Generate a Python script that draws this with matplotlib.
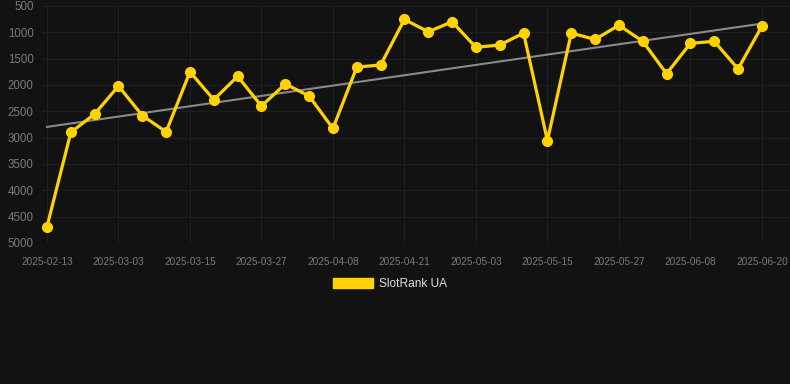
import numpy as np
import matplotlib
matplotlib.use("Agg")
import matplotlib.pyplot as plt
from matplotlib.patches import Patch

# ranks (lower is better, axis is inverted)
dates = ['2025-02-13', '2025-02-19', '2025-02-25', '2025-03-03', '2025-03-07', '2025-03-11',
         '2025-03-15', '2025-03-19', '2025-03-23', '2025-03-27', '2025-03-31', '2025-04-04',
         '2025-04-08', '2025-04-12', '2025-04-17', '2025-04-21', '2025-04-25', '2025-04-29',
         '2025-05-03', '2025-05-07', '2025-05-11', '2025-05-15', '2025-05-19', '2025-05-23',
         '2025-05-27', '2025-05-31', '2025-06-04', '2025-06-08', '2025-06-12', '2025-06-16',
         '2025-06-20']
ranks = [4690, 2900, 2550, 2020, 2580, 2890, 1750, 2280, 1835, 2400, 1980, 2210,
         2825, 1660, 1620, 755, 990, 800, 1285, 1240, 1015, 3055, 1015, 1135,
         865, 1170, 1785, 1210, 1170, 1695, 885]
yticks = [500, 1000, 1500, 2000, 2500, 3000, 3500, 4000, 4500, 5000]
series_name = 'SlotRank UA'

bg = '#121212'
gold = '#FFD200'

plt.rcParams['font.family'] = ['Liberation Sans', 'DejaVu Sans']

fig = plt.figure(figsize=(7.9, 3.84), dpi=100, facecolor=bg)
ax = fig.add_axes([42 / 790, 141 / 384, 748 / 790, 237 / 384], facecolor=bg)

x = np.arange(len(ranks))

# linear trend
k, b = np.polyfit(x, ranks, 1)
ax.plot([x[0], x[-1]], [b, k * x[-1] + b], color='#8a8a8a', lw=1.5, zorder=2)

ax.plot(x, ranks, color=gold, lw=2.3, marker='o', ms=7, zorder=3)

ax.set_ylim(5000, 500)
ax.set_yticks(yticks)
ax.set_xlim(-0.21, 31.18)
ax.set_xticks(x[::3])
ax.set_xticklabels(dates[::3])

ax.grid(True, color='#1f1f1f', lw=0.8)
ax.set_axisbelow(True)
for s in ax.spines.values():
    s.set_visible(False)
ax.tick_params(length=0, colors='#7a7a7a')
ax.tick_params(axis='y', labelsize=8.3, pad=6)
ax.tick_params(axis='x', labelsize=7.2, pad=10)

leg = fig.legend(handles=[Patch(color=gold, label=series_name)], loc='center',
                 bbox_to_anchor=(390 / 790, 1 - 284 / 384), frameon=False,
                 handlelength=3.35, handleheight=0.92, handletextpad=0.5,
                 fontsize=8.6, labelcolor='#dddddd')

fig.savefig('out.png', dpi=100, facecolor=bg)
